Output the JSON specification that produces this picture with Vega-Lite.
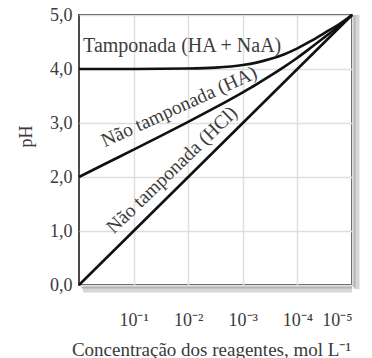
{
  "$schema": "https://vega.github.io/schema/vega-lite/v6.json",
  "width": 273,
  "height": 270,
  "autosize": {"type": "none"},
  "padding": {"left": 79, "top": 15, "right": 20, "bottom": 73},
  "background": "white",
  "config": {
    "view": {"stroke": "#4a4a4a", "strokeWidth": 2},
    "font": "Liberation Serif"
  },
  "datasets": {
    "curves": [
      {"series": "HCl", "C": 1, "pH": 0.0},
      {"series": "HCl", "C": 0.00001, "pH": 5.0},
      {"series": "HA", "C": 1, "pH": 2.0},
      {"series": "HA", "C": 0.31623, "pH": 2.254},
      {"series": "HA", "C": 0.1, "pH": 2.507},
      {"series": "HA", "C": 0.031623, "pH": 2.762},
      {"series": "HA", "C": 0.01, "pH": 3.022},
      {"series": "HA", "C": 0.0031623, "pH": 3.289},
      {"series": "HA", "C": 0.001, "pH": 3.569},
      {"series": "HA", "C": 0.00056234, "pH": 3.716},
      {"series": "HA", "C": 0.00031623, "pH": 3.871},
      {"series": "HA", "C": 0.00017783, "pH": 4.034},
      {"series": "HA", "C": 0.0001, "pH": 4.209},
      {"series": "HA", "C": 0.000056234, "pH": 4.397},
      {"series": "HA", "C": 0.000031623, "pH": 4.59},
      {"series": "HA", "C": 0.000017783, "pH": 4.785},
      {"series": "HA", "C": 0.00001, "pH": 5.0},
      {"series": "Tampao", "C": 1, "pH": 4.0},
      {"series": "Tampao", "C": 0.1, "pH": 4.0},
      {"series": "Tampao", "C": 0.01, "pH": 4.009},
      {"series": "Tampao", "C": 0.0031623, "pH": 4.026},
      {"series": "Tampao", "C": 0.001, "pH": 4.074},
      {"series": "Tampao", "C": 0.00056234, "pH": 4.118},
      {"series": "Tampao", "C": 0.00031623, "pH": 4.183},
      {"series": "Tampao", "C": 0.00017783, "pH": 4.27},
      {"series": "Tampao", "C": 0.0001, "pH": 4.383},
      {"series": "Tampao", "C": 0.000056234, "pH": 4.52},
      {"series": "Tampao", "C": 0.000031623, "pH": 4.67},
      {"series": "Tampao", "C": 0.000017783, "pH": 4.82},
      {"series": "Tampao", "C": 0.00001, "pH": 5.0}
    ],
    "frame": [{"Cmin": 1, "Cmax": 0.00001, "pHmin": 0, "pHmax": 5}]
  },
  "layer": [
    {
      "data": {"name": "frame"},
      "mark": {"type": "rule", "color": "#d6d6d6", "strokeWidth": 6, "xOffset": 4.5, "yOffset": 4, "clip": false},
      "encoding": {
        "x": {"field": "Cmax", "type": "quantitative"},
        "y": {"field": "pHmin", "type": "quantitative"},
        "y2": {"field": "pHmax"}
      }
    },
    {
      "data": {"name": "frame"},
      "mark": {"type": "rule", "color": "#d6d6d6", "strokeWidth": 6, "xOffset": 4, "yOffset": 4.5, "clip": false},
      "encoding": {
        "y": {"field": "pHmin", "type": "quantitative"},
        "x": {"field": "Cmin", "type": "quantitative"},
        "x2": {"field": "Cmax"}
      }
    },
    {
      "data": {"name": "frame"},
      "mark": {"type": "rule", "color": "#b4b4b4", "strokeWidth": 2, "xOffset": 2.5, "yOffset": 2.5, "clip": false},
      "encoding": {
        "x": {"field": "Cmax", "type": "quantitative"},
        "y": {"field": "pHmin", "type": "quantitative"},
        "y2": {"field": "pHmax"}
      }
    },
    {
      "data": {"name": "frame"},
      "mark": {"type": "rule", "color": "#b4b4b4", "strokeWidth": 2, "xOffset": 2.5, "yOffset": 2.5, "clip": false},
      "encoding": {
        "y": {"field": "pHmin", "type": "quantitative"},
        "x": {"field": "Cmin", "type": "quantitative"},
        "x2": {"field": "Cmax"}
      }
    },
    {
      "data": {"name": "curves"},
      "mark": {"type": "line", "color": "#111111", "strokeWidth": 2.6, "interpolate": "monotone", "clip": false},
      "encoding": {
        "x": {
          "field": "C",
          "type": "quantitative",
          "scale": {"type": "log", "domain": [0.00001, 1], "reverse": true},
          "axis": {
            "values": [0.1, 0.01, 0.001, 0.0001, 0.00001],
            "labelExpr": "'10⁻' + ['¹','²','³','⁴','⁵'][round(-log(datum.value)/LN10)-1]",
            "labelFont": "Liberation Serif",
            "labelFontSize": 18,
            "labelColor": "#3a3a3a",
            "labelPadding": 26,
            "ticks": false,
            "domain": false,
            "grid": true,
            "gridColor": "#dedede",
            "gridWidth": 1.5,
            "title": "Concentração dos reagentes, mol L⁻¹",
            "titleFont": "Liberation Serif",
            "titleFontSize": 19,
            "titleFontWeight": "normal",
            "titleColor": "#3a3a3a",
            "titleBaseline": "alphabetic",
            "titleY": 70,
            "titleX": 132
          }
        },
        "y": {
          "field": "pH",
          "type": "quantitative",
          "scale": {"domain": [0, 5]},
          "axis": {
            "values": [0, 1, 2, 3, 4, 5],
            "labelExpr": "replace(format(datum.value, '.1f'), '.', ',')",
            "labelFont": "Liberation Serif",
            "labelFontSize": 18,
            "labelColor": "#3a3a3a",
            "labelPadding": 7,
            "ticks": false,
            "domain": false,
            "grid": true,
            "gridColor": "#dedede",
            "gridWidth": 1.5,
            "title": "pH",
            "titleFont": "Liberation Serif",
            "titleFontSize": 18,
            "titleFontWeight": "normal",
            "titleColor": "#3a3a3a",
            "titleX": -48,
            "titleY": 121,
            "titleBaseline": "alphabetic"
          }
        },
        "detail": {"field": "series", "type": "nominal"}
      }
    },
    {
      "data": {"values": [{"C": 0.01288, "pH": 4.31, "label": "Tamponada (HA + NaA)"}]},
      "mark": {"type": "text", "font": "Liberation Serif", "fontSize": 20, "color": "#3c3c3c", "align": "center", "baseline": "alphabetic"},
      "encoding": {
        "x": {"field": "C", "type": "quantitative"},
        "y": {"field": "pH", "type": "quantitative"},
        "text": {"field": "label"}
      }
    },
    {
      "data": {"values": [{"C": 0.0132, "pH": 3.2, "label": "Não tamponada (HA)"}]},
      "mark": {"type": "text", "font": "Liberation Serif", "fontSize": 19.5, "color": "#3c3c3c", "align": "center", "baseline": "alphabetic", "angle": -24.5},
      "encoding": {
        "x": {"field": "C", "type": "quantitative"},
        "y": {"field": "pH", "type": "quantitative"},
        "text": {"field": "label"}
      }
    },
    {
      "data": {"values": [{"C": 0.0166, "pH": 2.05, "label": "Não tamponada (HCl)"}]},
      "mark": {"type": "text", "font": "Liberation Serif", "fontSize": 19.5, "color": "#3c3c3c", "align": "center", "baseline": "alphabetic", "angle": -44},
      "encoding": {
        "x": {"field": "C", "type": "quantitative"},
        "y": {"field": "pH", "type": "quantitative"},
        "text": {"field": "label"}
      }
    }
  ]
}
